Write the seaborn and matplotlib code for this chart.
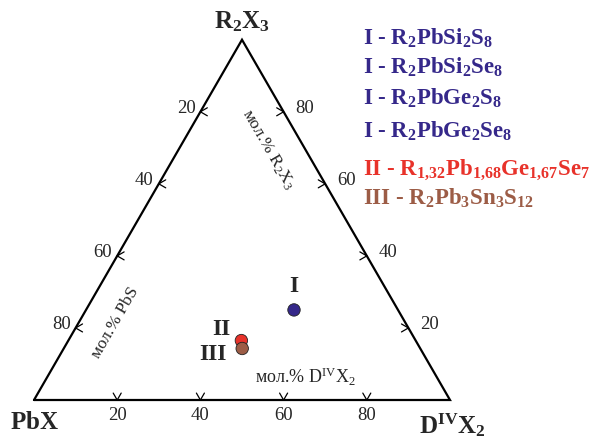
import numpy as np
import pandas as pd
import matplotlib
matplotlib.use("Agg")
import matplotlib.pyplot as plt
import seaborn as sns

# ---- data (mol. %) ----
labels = ["I", "II", "III"]
r2x3 = [25.0, 16.5, 14.3]     # top vertex R2X3
pbx = [25.0, 41.9, 42.9]      # bottom-left vertex PbX
dx2 = [50.0, 41.6, 42.9]      # bottom-right vertex D(IV)X2
point_colors = ["#35288a", "#e8322a", "#9c5c46"]
tick_values = [20, 40, 60, 80]
legend_lines = [
    r"I - R$\mathbf{_2}$PbSi$\mathbf{_2}$S$\mathbf{_8}$",
    r"I - R$\mathbf{_2}$PbSi$\mathbf{_2}$Se$\mathbf{_8}$",
    r"I - R$\mathbf{_2}$PbGe$\mathbf{_2}$S$\mathbf{_8}$",
    r"I - R$\mathbf{_2}$PbGe$\mathbf{_2}$Se$\mathbf{_8}$",
    r"II - R$\mathbf{_{1{,}32}}$Pb$\mathbf{_{1{,}68}}$Ge$\mathbf{_{1{,}67}}$Se$\mathbf{_7}$",
    r"III - R$\mathbf{_2}$Pb$\mathbf{_3}$Sn$\mathbf{_3}$S$\mathbf{_{12}}$",
]
legend_colors = ["#35288a", "#35288a", "#35288a", "#35288a", "#e8322a", "#9c5c46"]

sns.set_style("white")
plt.rcParams["font.family"] = ["Liberation Serif", "DejaVu Serif"]
plt.rcParams["mathtext.fontset"] = "custom"
plt.rcParams["mathtext.rm"] = "Liberation Serif"
plt.rcParams["mathtext.it"] = "Liberation Serif:italic"
plt.rcParams["mathtext.bf"] = "Liberation Serif:bold"

S3 = np.sqrt(3) / 2


def tern(b, c):
    """b = D(IV)X2 fraction, c = R2X3 fraction -> cartesian"""
    b = np.asarray(b, float)
    c = np.asarray(c, float)
    return b + c / 2, c * S3


W, H = 597, 441
fig = plt.figure(figsize=(W / 100, H / 100), dpi=100)
ax = fig.add_axes([0, 0, 1, 1])
scale = 416.0
ox, oy = 34.0, 400.0
ax.set_xlim(-ox / scale, (W - ox) / scale)
ax.set_ylim((oy - H) / scale, oy / scale)
ax.axis("off")

# triangle
tx, ty = tern([0, 1, 0, 0], [0, 0, 1, 0])
ax.plot(tx, ty, color="black", lw=1.6, solid_joinstyle="miter", zorder=2)

arm = 8 / scale
ang = np.deg2rad(30)
tkw = dict(color="black", lw=0.9, zorder=2)
tfs = 13.5
for t in tick_values:
    f = t / 100
    # bottom edge: D(IV)X2 %
    x0, y0 = tern(f, 0)
    for s in (-1, 1):
        ax.plot([x0, x0 + s * arm * np.sin(ang)], [y0, y0 + arm * np.cos(ang)], **tkw)
    ax.text(x0, y0 - 15 / scale, str(t), ha="center", va="center", fontsize=tfs)
    # left edge: PbX %
    x0, y0 = tern(0, 1 - f)
    for s in (-1, 1):
        ax.plot([x0, x0 + arm * np.cos(ang)], [y0, y0 + s * arm * np.sin(ang)], **tkw)
    ax.text(x0 - 5 / scale, y0 + 3 / scale, str(t), ha="right", va="center", fontsize=tfs)
    # right edge: R2X3 %
    x0, y0 = tern(1 - f, f)
    for s in (-1, 1):
        ax.plot([x0, x0 - arm * np.cos(ang)], [y0, y0 + s * arm * np.sin(ang)], **tkw)
    ax.text(x0 + 12 / scale, y0 + 3 / scale, str(t), ha="left", va="center", fontsize=tfs)

# vertex labels
vfs = 18
ax.text((242 - ox) / scale, (oy - 22) / scale, r"$\mathbf{R_2X_3}$", ha="center", va="center", fontsize=vfs)
ax.text((34 - ox) / scale, (oy - 423) / scale, r"$\mathbf{PbX}$", ha="center", va="center", fontsize=vfs)
ax.text((452 - ox) / scale, (oy - 425) / scale, r"$\mathbf{D^{IV}X_2}$", ha="center", va="center", fontsize=vfs)

# axis titles
afs = 12.5
ax.text((268 - ox) / scale, (oy - 150) / scale, r"мол.% R$_2$X$_3$", rotation=-60,
        ha="center", va="center", fontsize=afs, rotation_mode="anchor")
ax.text((115 - ox) / scale, (oy - 323) / scale, "мол.% PbS", rotation=60,
        ha="center", va="center", fontsize=afs, rotation_mode="anchor")
ax.text((305 - ox) / scale, (oy - 377) / scale, r"мол.% D$^{\rm IV}$X$_2$",
        ha="center", va="center", fontsize=13)

# points
px, py = tern(np.array(dx2) / 100, np.array(r2x3) / 100)
df = pd.DataFrame({"x": px, "y": py, "label": labels})
sns.scatterplot(data=df, x="x", y="y", hue="label", palette=point_colors,
                s=80, edgecolor="#222222", linewidth=0.6, legend=False, ax=ax, zorder=3)
ax.set_xlim(-ox / scale, (W - ox) / scale)
ax.set_ylim((oy - H) / scale, oy / scale)

offsets = [(0, 17), (-14.5, 8), (-21, -4.5)]
for xx, yy, lab, off in zip(px, py, labels, offsets):
    ax.annotate(lab, (xx, yy), xytext=off, textcoords="offset points",
                ha="center", va="center", fontsize=17, fontweight="bold")

# legend text
baselines = [45, 74, 105, 138, 175, 205]
for txt, col, b in zip(legend_lines, legend_colors, baselines):
    fig.text(363 / W, 1 - b / H, txt, color=col, ha="left", va="baseline",
             fontsize=16.5, fontweight="bold")

fig.savefig("out.png", dpi=100)
